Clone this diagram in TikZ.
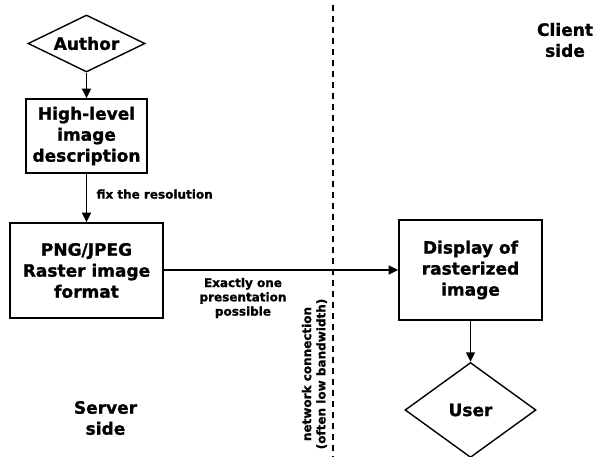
\documentclass[tikz,border=0pt]{standalone}
\usepackage{fontspec}
\setmainfont{DejaVu Sans}[BoldFeatures={FakeBold=1.2}]
\usetikzlibrary{shapes.geometric,arrows.meta}
\begin{document}
\begin{tikzpicture}[x=1pt,y=-1pt,
  big/.style={font=\bfseries\fontsize{17}{21}\selectfont, align=center},
  small/.style={font=\bfseries\fontsize{12}{14.3}\selectfont, align=center},
  box/.style={big, draw, line width=1.6pt, inner sep=0pt},
  dia/.style={big, draw, line width=1.4pt, diamond, inner sep=0pt, aspect=2},
  conn/.style={line width=1.5pt, -{Triangle[length=9.5pt,width=9pt]}},
  sep/.style={line width=1.4pt, dash pattern=on 6pt off 5pt}]
\useasboundingbox (0,0) rectangle (595,457);
\node[dia, minimum width=117pt, minimum height=57pt] (author) at (86.5,43.5) {Author};
\node[box, minimum width=121pt, minimum height=74pt] (hl) at (86.5,136) {High-level\\image\\description};
\node[box, minimum width=153pt, minimum height=95pt] (png) at (86.5,270.5) {PNG/JPEG\\Raster image\\format};
\node[box, minimum width=143pt, minimum height=100pt] (disp) at (470.5,270) {Display of\\rasterized\\image};
\node[dia, minimum width=131pt, minimum height=95pt] (user) at (470.5,410) {User};
\draw[conn] (author.south) -- (hl.north);
\draw[conn] (hl.south) -- node[small, right=6pt, pos=0.42] (fix) {fix the resolution} (png.north);
\draw[conn] (png.east |- disp.west) -- (disp.west);
\draw[conn] (disp.south) -- (user.north);
\coordinate (dtop) at (333,5);
\coordinate (dbot) at (333,457);
\draw[sep] (dtop) -- (dbot);
\node[small] (exact) at (243,298) {Exactly one\\presentation\\possible};
\node[small, rotate=90] (net) at (314.5,374) {network connection\\(often low bandwidth)};
\node[big] (server) at (105.5,418) {Server\\side};
\node[big] (client) at (565,40) {Client\\side};
\end{tikzpicture}
\end{document}
